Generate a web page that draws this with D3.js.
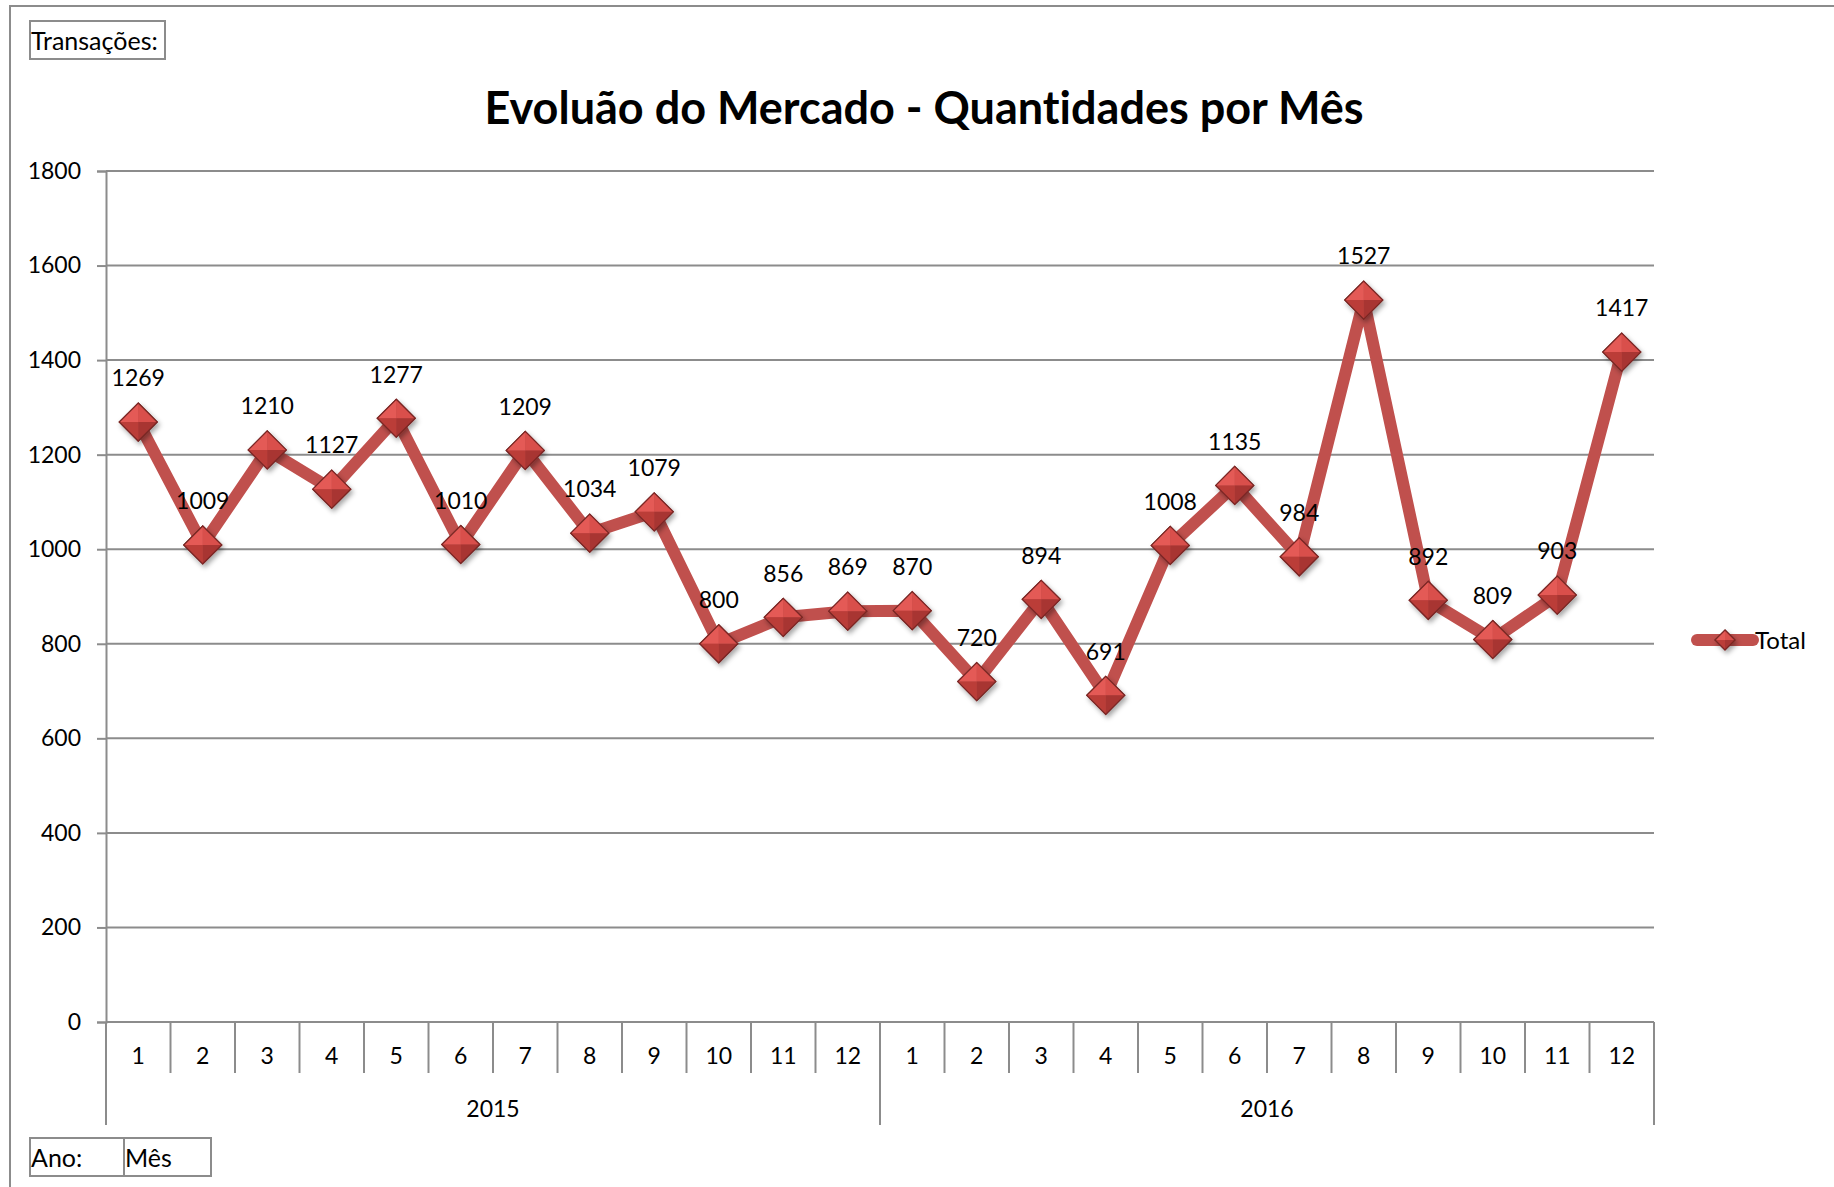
<!DOCTYPE html>
<html>
<head>
<meta charset="utf-8">
<script src="https://cdn.jsdelivr.net/npm/d3@7"></script>
<style>
  body { margin: 0; background: #fff; }
  svg text { font-family: Lato, "Open Sans", sans-serif; fill: #000; font-variant-ligatures: none; }
</style>
</head>
<body>
<div id="chart"></div>
<script>
// data

const years = ["2015", "2016"];
const months = ["1","2","3","4","5","6","7","8","9","10","11","12"];
const total = [1269, 1009, 1210, 1127, 1277, 1010, 1209, 1034, 1079, 800, 856, 869,
               870, 720, 894, 691, 1008, 1135, 984, 1527, 892, 809, 903, 1417];
const yTicks = [0, 200, 400, 600, 800, 1000, 1200, 1400, 1600, 1800];

const W = 1834, H = 1187;
const plot = {left: 106, right: 1654, top: 171, bottom: 1022};
const red = "#c0504d", grid = "#8c8c8c";

const svg = d3.select("#chart").append("svg")
    .attr("width", W).attr("height", H);

// defs: shadow for the markers
const defs = svg.append("defs");
const shadow = defs.append("filter").attr("id", "shadow")
    .attr("x", "-50%").attr("y", "-50%").attr("width", "200%").attr("height", "200%");
shadow.append("feDropShadow")
    .attr("dx", 2).attr("dy", 3).attr("stdDeviation", 2.5)
    .attr("flood-color", "#000").attr("flood-opacity", 0.35);

// outer frame (only top and left visible)
svg.append("path")
    .attr("d", `M10,${H} V6 H${W}`)
    .attr("fill", "none").attr("stroke", grid).attr("stroke-width", 2);

// field boxes
function fieldBox(x, y, w, h, label) {
    svg.append("rect").attr("x", x).attr("y", y).attr("width", w).attr("height", h)
        .attr("fill", "#fff").attr("stroke", "#8c8c8c").attr("stroke-width", 2);
    svg.append("text").attr("x", x + 1).attr("y", y + h / 2)
        .attr("dy", "0.38em").style("font-size", "25px").text(label);
}
fieldBox(30, 21, 135, 38, "Transações:");
fieldBox(30, 1138, 94, 38, "Ano:");
fieldBox(124, 1138, 87, 38, "Mês");

// title
svg.append("text")
    .attr("x", (plot.left + plot.right) / 2 + 44).attr("y", 124)
    .attr("text-anchor", "middle")
    .style("font-size", "45px").style("font-weight", "bold")
    .text("Evoluão do Mercado - Quantidades por Mês");

// scales
const cats = [];
years.forEach(y => months.forEach(m => cats.push(y + "-" + m)));

const x = d3.scaleBand().domain(cats).range([plot.left, plot.right]);
const y = d3.scaleLinear().domain([0, 1800]).range([plot.bottom, plot.top]);

// gridlines
svg.append("g").selectAll("line")
    .data(yTicks.filter(d => d > 0))
    .enter().append("line")
    .attr("x1", plot.left).attr("x2", plot.right)
    .attr("y1", d => y(d)).attr("y2", d => y(d))
    .attr("stroke", grid).attr("stroke-width", 2);

// y axis
const yAxis = svg.append("g")
    .attr("transform", `translate(${plot.left},0)`)
    .call(d3.axisLeft(y).tickValues(yTicks).tickSize(9).tickPadding(16).tickFormat(d3.format("d")));
yAxis.select(".domain").attr("stroke", grid).attr("stroke-width", 2);
yAxis.selectAll(".tick line").attr("stroke", grid).attr("stroke-width", 2);
yAxis.selectAll(".tick text").style("font-size", "23px").style("font-family", "Lato");

// category axis (two levels)
const xAxis = svg.append("g");
xAxis.append("line")
    .attr("x1", plot.left).attr("x2", plot.right)
    .attr("y1", plot.bottom).attr("y2", plot.bottom)
    .attr("stroke", grid).attr("stroke-width", 2);

// month separators
xAxis.selectAll(".msep")
    .data(cats)
    .enter().append("line")
    .attr("class", "msep")
    .attr("x1", d => x(d)).attr("x2", d => x(d))
    .attr("y1", plot.bottom).attr("y2", 1073)
    .attr("stroke", grid).attr("stroke-width", 2);

xAxis.selectAll(".mlab")
    .data(cats)
    .enter().append("text")
    .attr("class", "mlab")
    .attr("x", d => x(d) + x.bandwidth() / 2)
    .attr("y", 1056).attr("dy", "0.36em")
    .attr("text-anchor", "middle")
    .style("font-size", "23px")
    .text(d => d.split("-")[1]);

// year separators
const yearEdges = years.map(yr => x(yr + "-1")).concat([plot.right]);
xAxis.selectAll(".ysep")
    .data(yearEdges)
    .enter().append("line")
    .attr("x1", d => d).attr("x2", d => d)
    .attr("y1", plot.bottom).attr("y2", 1125)
    .attr("stroke", grid).attr("stroke-width", 2);

xAxis.selectAll(".ylab")
    .data(years)
    .enter().append("text")
    .attr("x", (d, i) => (yearEdges[i] + yearEdges[i + 1]) / 2)
    .attr("y", 1109).attr("dy", "0.36em")
    .attr("text-anchor", "middle")
    .style("font-size", "23px")
    .text(d => d);

// line
const pts = total.map((v, i) => ({cat: cats[i], value: v}));
const line = d3.line()
    .x(d => x(d.cat) + x.bandwidth() / 2)
    .y(d => y(d.value));

svg.append("path")
    .datum(pts)
    .attr("d", line)
    .attr("fill", "none")
    .attr("stroke", red)
    .attr("stroke-width", 12)
    .attr("stroke-linejoin", "round");

// 3d diamond marker
function diamond(g, r) {
    const f = g.append("g").attr("filter", "url(#shadow)");
    f.append("path").attr("d", `M0,${-r} L${r},0 L0,${r} L${-r},0Z`)
        .attr("fill", "#c0504d").attr("stroke", "#7a2825").attr("stroke-width", 1.2);
    f.append("path").attr("d", `M0,${-r} L0,0 L${-r},0Z`).attr("fill", "#e45a56");
    f.append("path").attr("d", `M0,${-r} L${r},0 L0,0Z`).attr("fill", "#d94f4b");
    f.append("path").attr("d", `M${-r},0 L0,0 L0,${r}Z`).attr("fill", "#bb3d39");
    f.append("path").attr("d", `M0,0 L${r},0 L0,${r}Z`).attr("fill", "#a83431");
    f.append("path").attr("d", `M0,${-r} L${r},0 L0,${r} L${-r},0Z`)
        .attr("fill", "none").attr("stroke", "#7a2825").attr("stroke-width", 1.2);
}

svg.append("g").selectAll("g")
    .data(pts)
    .enter().append("g")
    .attr("transform", d => `translate(${x(d.cat) + x.bandwidth() / 2},${y(d.value)})`)
    .each(function() { diamond(d3.select(this), 19); });

// data labels
svg.append("g").selectAll("text")
    .data(pts)
    .enter().append("text")
    .attr("x", d => x(d.cat) + x.bandwidth() / 2)
    .attr("y", d => y(d.value) - 44)
    .attr("dy", "0.36em")
    .attr("text-anchor", "middle")
    .style("font-size", "23px")
    .text(d => d.value);

// legend
const leg = svg.append("g").attr("transform", "translate(1697,640)");
leg.append("line").attr("x1", 0).attr("x2", 56)
    .attr("stroke", red).attr("stroke-width", 12).attr("stroke-linecap", "round");
leg.append("g").attr("transform", "translate(28,0)").call(g => diamond(g, 10));
leg.append("text").attr("x", 58).attr("y", 0).attr("dy", "0.36em")
    .style("font-size", "24px").text("Total");
</script>
</body>
</html>
